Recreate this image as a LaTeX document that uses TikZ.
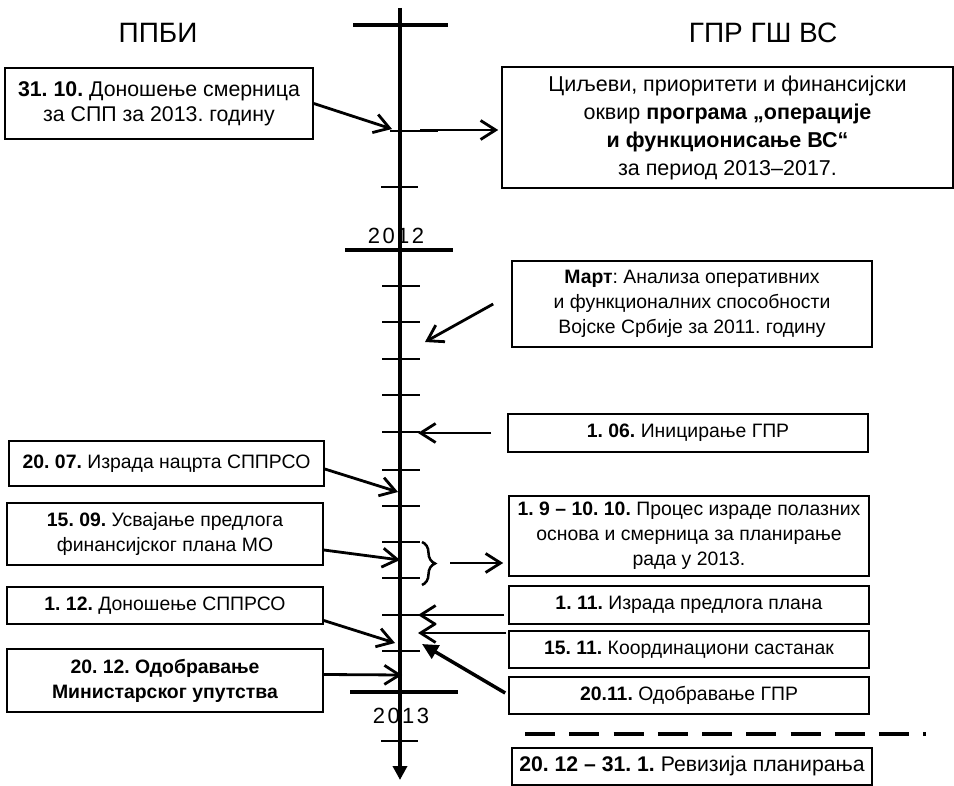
\documentclass[tikz,border=0pt]{standalone}
\usepackage{fontspec}
\setmainfont{Liberation Sans}
\usetikzlibrary{arrows.meta,decorations.pathreplacing}
\begin{document}
\frenchspacing
\begin{tikzpicture}[x=1pt,y=-1pt,
  box/.style={draw, line width=1.6pt, inner sep=0pt, align=center, font=\fontsize{19.4}{25}\selectfont},
  arr/.style={line width=2.8pt, -{Straight Barb[length=15pt,width=19pt]}},
  bigarr/.style={line width=3.5pt, -{Triangle[length=16pt,width=15pt]}},
  axisline/.style={line width=4pt, -{Triangle[length=14pt,width=14pt]}},
  smalltick/.style={line width=2.2pt},
  bigtick/.style={line width=3.8pt},
  ttl/.style={font=\fontsize{28}{32}\selectfont},
  yr/.style={font=\fontsize{22}{25}\selectfont}]
\useasboundingbox (0,0) rectangle (954,786);

% titles
\node[ttl] (tl) at (158,33) {ППБИ};
\node[ttl] (tr) at (763,33) {ГПР ГШ ВС};

% year labels
\node[yr] (y2012) at (396,236) {2\hspace{2.5pt}0\hspace{2.5pt}1\hspace{2.5pt}2};
\node[yr] (y2013) at (401,716) {2\hspace{2.5pt}0\hspace{2.5pt}1\hspace{2.5pt}3};

% axis
\coordinate (atop) at (400,8);
\coordinate (abot) at (400,780);
\draw[axisline] (atop) -- (abot);

% big ticks
\draw[bigtick] (353,25) -- (448,25);
\draw[bigtick] (345,250) -- (453,250);
\draw[bigtick] (350,692) -- (458,692);

% small ticks
\draw[smalltick] (390,131) -- (438,131);
\draw[smalltick] (381,187) -- (418,187);
\foreach \yy in {286,322,359,395,432,470,506,542,578,615,651}
  \draw[smalltick] (382,\yy) -- (420,\yy);
\draw[smalltick] (381,741) -- (418,741);

% left boxes
\node[box, minimum width=308pt, minimum height=71pt, font=\fontsize{21.3}{25}\selectfont] (b3110) at (159,103.5)
  {\textbf{31. 10.} Доношење смерница\\за СПП за 2013. годину};
\node[box, minimum width=315pt, minimum height=45pt] (b2007) at (166.5,463.5)
  {\textbf{20. 07.} Израда нацрта СППРСО};
\node[box, minimum width=316pt, minimum height=62pt] (b1509) at (165,534)
  {\textbf{15. 09.} Усвајање предлога\\финансијског плана МО};
\node[box, minimum width=316pt, minimum height=37pt] (b112) at (165,605.5)
  {\textbf{1. 12.} Доношење СППРСО};
\node[box, minimum width=316pt, minimum height=63pt] (b2012) at (165,680.5)
  {\textbf{20. 12. Одобравање}\\\textbf{Министарског упутства}};

% right boxes
\node[box, minimum width=451pt, minimum height=121pt, font=\fontsize{21.5}{28}\selectfont] (bgoal) at (727.5,127.5)
  {Циљеви, приоритети и финансијски\\оквир \textbf{програма „операције}\\\textbf{и функционисање ВС“}\\за период 2013–2017.};
\node[box, minimum width=360pt, minimum height=86pt] (bmart) at (692,304)
  {\textbf{Март}: Анализа оперативних\\и функционалних способности\\Војске Србије за 2011. годину};
\node[box, minimum width=360pt, minimum height=38pt] (b106) at (688,433)
  {\textbf{1. 06.} Иницирање ГПР};
\node[box, minimum width=360pt, minimum height=80pt] (b19) at (689,536)
  {\textbf{1. 9 – 10. 10.} Процес израде полазних\\основа и смерница за планирање\\рада у 2013.};
\node[box, minimum width=360pt, minimum height=38pt] (b111) at (689,605)
  {\textbf{1. 11.} Израда предлога плана};
\node[box, minimum width=360pt, minimum height=37pt] (b1511) at (689,649.5)
  {\textbf{15. 11.} Координациони састанак};
\node[box, minimum width=360pt, minimum height=37pt] (b2011) at (689,695.5)
  {\textbf{20.11.} Одобравање ГПР};
\node[box, minimum width=360pt, minimum height=37pt, font=\fontsize{21.2}{25}\selectfont] (brev) at (692,766.5)
  {\textbf{20. 12 – 31. 1.} Ревизија планирања};

% dashed separator
\draw[line width=3.5pt, dash pattern=on 30pt off 14.25pt] (525,734) -- (926,734);

% connectors
\coordinate (t3110) at (392,129);
\draw[arr] (b3110.east) -- (t3110);
\coordinate (s3110) at (420,130);
\draw[arr, shorten >=3pt] (s3110) -- (bgoal.west |- s3110);
\coordinate (tmart) at (425,342);
\draw[arr] ([xshift=-18pt]bmart.west) -- (tmart);
\coordinate (t106) at (418,433);
\draw[arr] ([xshift=-16pt]b106.west) -- (t106);
\coordinate (t2007) at (398,492);
\draw[arr] ([yshift=-5.5pt]b2007.east) -- (t2007);
\coordinate (t1509) at (400,560);
\draw[arr] ([yshift=-16pt]b1509.east) -- (t1509);
\coordinate (t112) at (395,643);
\draw[arr] ([yshift=-15pt]b112.east) -- (t112);
\coordinate (t2012) at (402,675);
\draw[arr] ([yshift=6pt]b2012.east) -- (t2012);
\coordinate (t111) at (418,615);
\draw[arr] ([xshift=-4pt,yshift=-10pt]b111.west) -- (t111);
\coordinate (t1511) at (418,633);
\draw[arr] ([xshift=-2pt,yshift=16.5pt]b1511.west) -- (t1511);
\coordinate (t2011) at (422,644);
\draw[bigarr] ([xshift=-3pt,yshift=2.5pt]b2011.west) -- (t2011);

% brace and its arrow
\draw[line width=2.5pt, decorate, decoration={brace, amplitude=13pt}] (422,542) -- (422,585);
\coordinate (bs) at (450,563);
\draw[arr, shorten >=5pt] (bs) -- (b19.west |- bs);
\end{tikzpicture}
\end{document}
